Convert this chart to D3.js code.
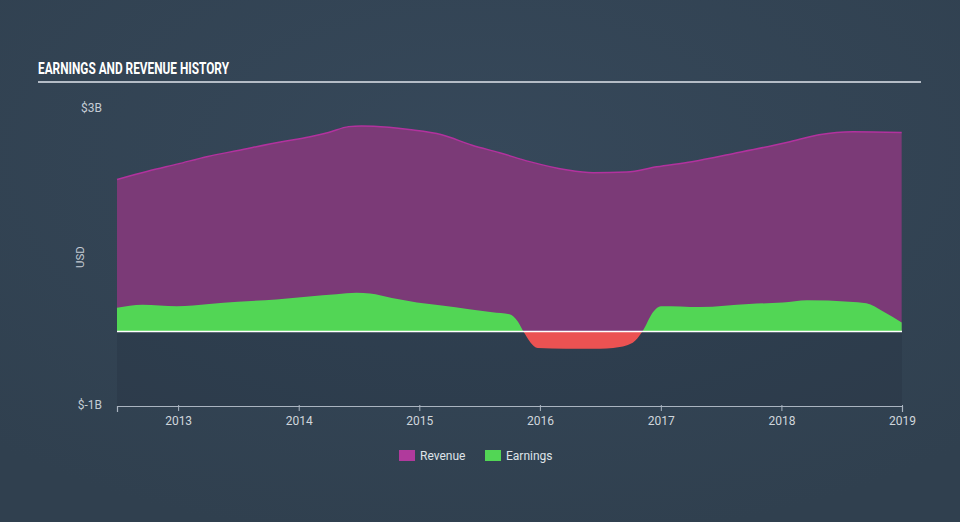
<!DOCTYPE html>
<html>
<head>
<meta charset="utf-8">
<script src="https://cdn.jsdelivr.net/npm/d3@7"></script>
<style>
  html, body { margin: 0; padding: 0; }
  body { width: 960px; height: 522px; overflow: hidden; background: #344456; }
  text { font-family: Roboto, "Open Sans", sans-serif; }
</style>
</head>
<body>
<svg id="chart" width="960" height="522"></svg>
<script>
// ---- data (values in billions USD) ----
const revenueDates = ["2012-06-30","2012-10-01","2013-01-01","2013-04-01","2013-07-01","2013-11-15","2014-02-01","2014-04-01","2014-06-01","2014-07-10","2014-10-01","2014-12-01","2015-03-10","2015-06-10","2015-09-01","2015-12-01","2016-03-20","2016-06-10","2016-09-20","2016-12-20","2017-04-05","2017-08-10","2017-12-10","2018-01-20","2018-04-25","2018-08-05","2018-12-31"];
const revenueValues = [2.04, 2.15, 2.25, 2.35, 2.43, 2.55, 2.61, 2.67, 2.75, 2.76, 2.74, 2.71, 2.64, 2.50, 2.40, 2.28, 2.17, 2.13, 2.14, 2.21, 2.28, 2.39, 2.50, 2.54, 2.64, 2.68, 2.67];

const earningsDates = ["2012-06-30","2012-09-15","2012-12-28","2013-04-05","2013-07-01","2013-10-25","2014-02-01","2014-04-25","2014-06-25","2014-08-05","2014-10-10","2014-12-25","2015-03-10","2015-06-01","2015-08-10","2015-10-01","2015-10-25","2015-11-12","2015-12-25","2016-03-20","2016-07-01","2016-08-10","2016-10-08","2016-11-06","2016-12-10","2017-01-01","2017-04-30","2017-09-25","2018-01-05","2018-03-20","2018-07-25","2018-09-15","2018-11-05","2018-12-31"];
const earningsValues = [0.32, 0.36, 0.34, 0.37, 0.40, 0.43, 0.47, 0.50, 0.52, 0.51, 0.45, 0.39, 0.35, 0.30, 0.26, 0.23, 0.14, 0.0, -0.22, -0.23, -0.23, -0.22, -0.15, 0.0, 0.27, 0.34, 0.33, 0.37, 0.39, 0.42, 0.40, 0.38, 0.27, 0.12];

const yTickValues = [-1, 3];
const yTickLabels = ["$-1B", "$3B"];
const xTickYears = [2013, 2014, 2015, 2016, 2017, 2018, 2019];
const legendLabels = ["Revenue", "Earnings"];
const titleText = "EARNINGS AND REVENUE HISTORY";

// ---- setup ----
const parse = d3.timeParse("%Y-%m-%d");
const revenue = revenueDates.map((d, i) => ({ date: parse(d), value: revenueValues[i] }));
const earnings = earningsDates.map((d, i) => ({ date: parse(d), value: earningsValues[i] }));

const svg = d3.select("#chart");
const W = 960, H = 522;

// background gradient
const defs = svg.append("defs");
const bg = defs.append("radialGradient").attr("id", "bg").attr("cx", "50%").attr("cy", "30%").attr("r", "75%");
bg.append("stop").attr("offset", "0%").attr("stop-color", "#36485a");
bg.append("stop").attr("offset", "100%").attr("stop-color", "#30404f");
svg.append("rect").attr("width", W).attr("height", H).attr("fill", "url(#bg)");

const x = d3.scaleTime()
  .domain([parse("2012-06-30"), parse("2019-01-01")])
  .range([117, 902]);
const y = d3.scaleLinear().domain([-1, 3]).range([406, 108]);

// plot area shade (below zero)
svg.append("rect")
  .attr("x", x.range()[0]).attr("y", y(0))
  .attr("width", x.range()[1] - x.range()[0]).attr("height", y(-1) - y(0))
  .attr("fill", "rgba(20,30,40,0.14)");

// title
svg.append("text")
  .attr("x", 38).attr("y", 74)
  .attr("fill", "#ffffff")
  .attr("font-family", "'Liberation Sans Narrow', 'DejaVu Sans Condensed', sans-serif")
  .attr("font-weight", "bold")
  .attr("font-size", 17)
  .attr("textLength", 191)
  .attr("lengthAdjust", "spacingAndGlyphs")
  .text(titleText);
svg.append("line")
  .attr("x1", 38).attr("x2", 921).attr("y1", 82).attr("y2", 82)
  .attr("stroke", "#b4bcc6").attr("stroke-width", 2);

// revenue area
const curve = d3.curveMonotoneX;
const revArea = d3.area().x(d => x(d.date)).y0(y(0)).y1(d => y(d.value)).curve(curve);
const revLine = d3.line().x(d => x(d.date)).y(d => y(d.value)).curve(curve);
svg.append("path").datum(revenue).attr("d", revArea).attr("fill", "#7b3a77");
svg.append("path").datum(revenue).attr("d", revLine).attr("fill", "none")
  .attr("stroke", "#b2329e").attr("stroke-width", 1.5);

// earnings area, green above zero, red below
defs.append("clipPath").attr("id", "above").append("rect")
  .attr("x", 0).attr("y", 0).attr("width", W).attr("height", y(0));
defs.append("clipPath").attr("id", "below").append("rect")
  .attr("x", 0).attr("y", y(0)).attr("width", W).attr("height", H - y(0));
const earnArea = d3.area().x(d => x(d.date)).y0(y(0)).y1(d => y(d.value)).curve(curve);
svg.append("path").datum(earnings).attr("d", earnArea).attr("fill", "#52d655").attr("clip-path", "url(#above)");
svg.append("path").datum(earnings).attr("d", earnArea).attr("fill", "#eb5252").attr("clip-path", "url(#below)");

// zero line
svg.append("line")
  .attr("x1", x.range()[0]).attr("x2", x.range()[1])
  .attr("y1", y(0)).attr("y2", y(0))
  .attr("stroke", "#ffffff").attr("stroke-width", 1.5);

// x axis
const xAxis = d3.axisBottom(x)
  .tickValues(xTickYears.map(yr => new Date(yr, 0, 1)))
  .tickFormat(d3.timeFormat("%Y"))
  .tickSizeOuter(0).tickSize(6).tickPadding(4);
const gx = svg.append("g").attr("transform", `translate(0,${y(-1)})`).call(xAxis);
gx.select(".domain").attr("stroke", "#aab4c0").attr("stroke-width", 1.2);
gx.selectAll(".tick line").attr("stroke", "#aab4c0").attr("transform", "translate(0,-1)");
gx.selectAll(".tick text").attr("fill", "#d0d6dc").attr("font-size", 12)
  .attr("font-family", "'Liberation Sans Narrow', 'DejaVu Sans Condensed', sans-serif");

// y axis labels
const yAxis = d3.axisLeft(y).tickValues(yTickValues)
  .tickFormat(d => yTickLabels[yTickValues.indexOf(d)])
  .tickSize(0).tickPadding(15);
const gy = svg.append("g").attr("transform", `translate(117,0)`).call(yAxis);
gy.select(".domain").remove();
gy.selectAll(".tick text").attr("fill", "#c4ccd4").attr("font-size", 12);
gy.selectAll(".tick").filter(d => d === -1).select("text").attr("dy", "0.2em");

svg.append("text")
  .attr("transform", "translate(84,257) rotate(-90)")
  .attr("text-anchor", "middle")
  .attr("fill", "#c4ccd4").attr("font-size", 11.5)
  .text("USD");

// legend
const legendColors = ["#b03a9c", "#52d655"];
const legendX = [399, 485];
legendLabels.forEach((lab, i) => {
  const g = svg.append("g").attr("transform", `translate(${legendX[i]},450)`);
  g.append("rect").attr("width", 16).attr("height", 11).attr("fill", legendColors[i]);
  g.append("text").attr("x", 21).attr("y", 10).attr("fill", "#dfe3e8").attr("font-size", 12).text(lab);
});
</script>
</body>
</html>
